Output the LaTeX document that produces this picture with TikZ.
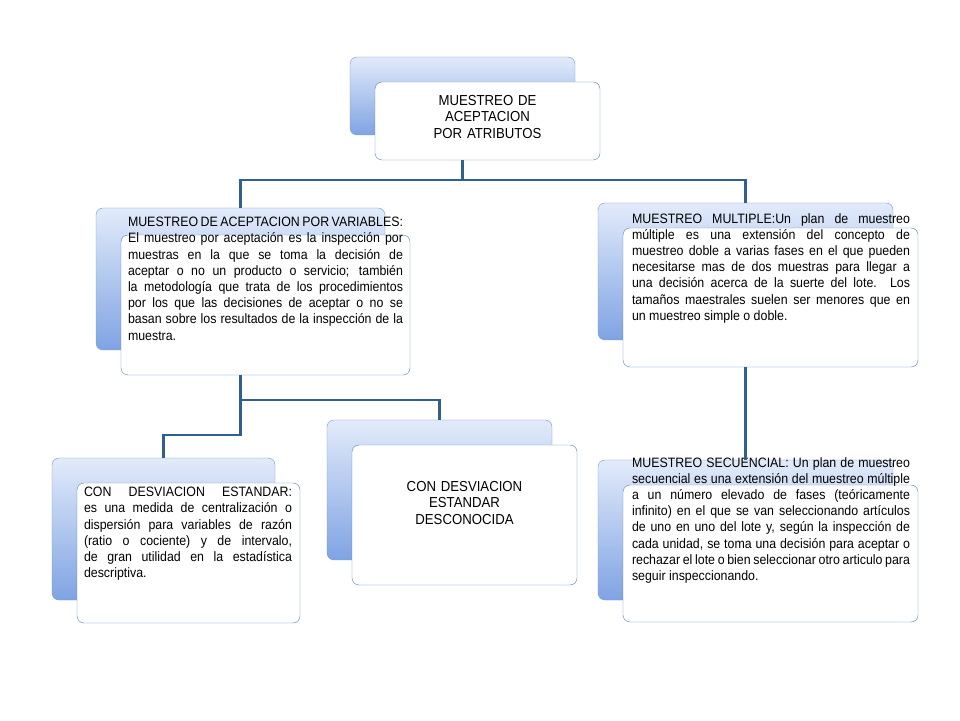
\documentclass[tikz,border=0pt]{standalone}
\usepackage{fontspec}
\setmainfont[FakeStretch=0.91]{Liberation Sans}
\usetikzlibrary{positioning,calc}
\definecolor{linkblue}{HTML}{31608F}
\definecolor{edgeblue}{HTML}{4F81BD}
\definecolor{backtop}{HTML}{E2EBFA}
\definecolor{backbot}{HTML}{7FA3E3}
\newcommand{\nohyph}{\hyphenpenalty=10000\exhyphenpenalty=10000\emergencystretch=3em}
\tikzset{
  back/.style={draw=edgeblue!80,rounded corners=7pt,top color=backtop,bottom color=backbot,inner sep=0pt},
  front/.style={draw=edgeblue,fill=white,rounded corners=7pt,inner sep=0pt},
  txt/.style={font=\fontsize{13.6}{16.2}\selectfont\nohyph,align=justify,inner sep=0pt},
  ctxt/.style={font=\fontsize{14.5}{16.5}\selectfont\nohyph,align=center,inner sep=0pt},
  link/.style={draw=linkblue,line width=2.4pt}
}
\begin{document}
\begin{tikzpicture}[x=1pt,y=1pt]
\useasboundingbox (0,0) rectangle (960,720);
% boxes
\node[back,minimum width=225,minimum height=78] (btop) at (462.5,624) {};
\node[front,minimum width=225,minimum height=78] (ftop) at (487.5,599) {};
\node[back,minimum width=289,minimum height=142] (bvar) at (240.5,441) {};
\node[front,minimum width=289,minimum height=140] (fvar) at (265.5,415) {};
\node[back,minimum width=295,minimum height=137] (bmul) at (745.5,448.5) {};
\node[front,minimum width=295,minimum height=139] (fmul) at (770.5,422.5) {};
\node[back,minimum width=223,minimum height=142] (bstd) at (163.5,191) {};
\node[front,minimum width=223,minimum height=140] (fstd) at (188.5,167) {};
\node[back,minimum width=225,minimum height=140] (bdes) at (439.5,230) {};
\node[front,minimum width=225,minimum height=140] (fdes) at (464.5,205) {};
\node[back,minimum width=295,minimum height=140] (bsec) at (745.5,190) {};
\node[front,minimum width=295,minimum height=137] (fsec) at (770.5,166.5) {};
% texts
\node[ctxt,text width=180] (ttop) at ([yshift=4]ftop.center) {MUESTREO DE ACEPTACION POR ATRIBUTOS};
\node[txt,text width=275,anchor=north] (tvar) at (265.5,503) {MUESTREO DE ACEPTACION POR VARIABLES: El muestreo por aceptación es la inspección por muestras en la que se toma la decisión de aceptar o no un producto o servicio; también la metodología que trata de los procedimientos por los que las decisiones de aceptar o no se basan sobre los resultados de la inspección de la muestra.};
\node[txt,text width=278,anchor=north] (tmul) at (771,507) {MUESTREO MULTIPLE:Un plan de muestreo múltiple es una extensión del concepto de muestreo doble a varias fases en el que pueden necesitarse mas de dos muestras para llegar a una decisión acerca de la suerte del lote. Los tamaños maestrales suelen ser menores que en un muestreo simple o doble.};
\node[txt,text width=208,anchor=north] (tstd) at (188,233) {CON DESVIACION ESTANDAR: es una medida de centralización o dispersión para variables de razón (ratio o cociente) y de intervalo, de gran utilidad en la estadística descriptiva.};
\node[ctxt,text width=160] (tdes) at ([yshift=12]fdes.center) {CON DESVIACION ESTANDAR DESCONOCIDA};
\node[txt,text width=278,anchor=north] (tsec) at (771,263) {MUESTREO SECUENCIAL: Un plan de muestreo secuencial es una extensión del muestreo múltiple a un número elevado de fases (teóricamente infinito) en el que se van seleccionando artículos de uno en uno del lote y, según la inspección de cada unidad, se toma una decisión para aceptar o rechazar el lote o bien seleccionar otro articulo para seguir inspeccionando.};
% connectors
\begin{scope}[on background layer/.try]
\draw[link] (btop.center|-ftop.south) -- ++(0,-20) -| (bvar.north);
\draw[link] (btop.center|-ftop.south) -- ++(0,-20) -| (bmul.north);
\draw[link] (bvar.center|-fvar.south) -- ++(0,-25) -| (bdes.north);
\draw[link] (bvar.center|-fvar.south) -- ++(0,-60) -| (bstd.north);
\draw[link] (bmul.center|-fmul.south) -- (bsec.north);
\end{scope}
\end{tikzpicture}
\end{document}
